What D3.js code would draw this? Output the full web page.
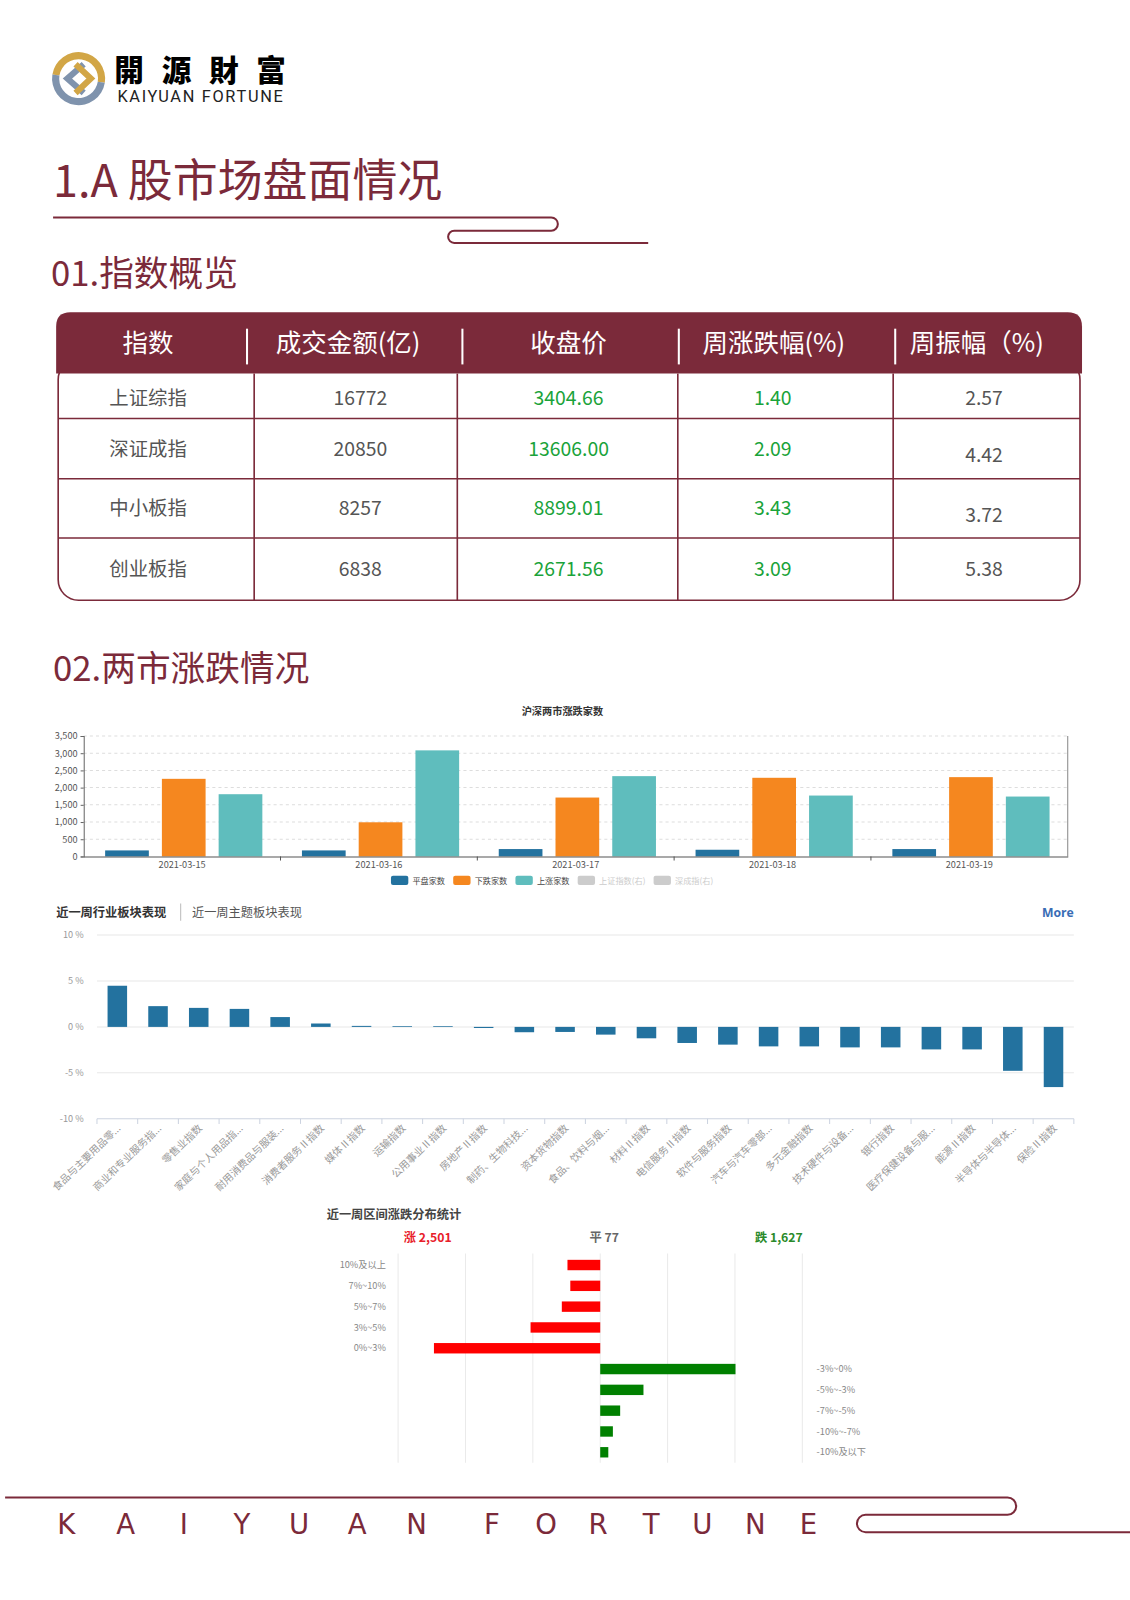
<!DOCTYPE html>
<html>
<head>
<meta charset="utf-8">
<script src="https://cdn.jsdelivr.net/npm/d3@7"></script>
<style>
  body { margin: 0; background: #fff; overflow: hidden; }
  #svg { display: block; }
  svg text { font-family: 'Noto Sans CJK SC', 'Noto Sans', sans-serif; }
</style>
</head>
<body>
<svg id="svg"></svg>
<script>
// page size
const width = 1130;
const height = 1600;
// layout was measured on a 1107px wide copy of the page
const pageScale = 1130 / 1107;
const maroon = "#7b2a3a";

// ---- data ----
// table
const indexNames = ["上证综指", "深证成指", "中小板指", "创业板指"];
const turnover = ["16772", "20850", "8257", "6838"];
const closePrice = ["3404.66", "13606.00", "8899.01", "2671.56"];
const weekChange = ["1.40", "2.09", "3.43", "3.09"];
const weekAmplitude = ["2.57", "4.42", "3.72", "5.38"];
const tableHeaders = ["指数", "成交金额(亿)", "收盘价", "周涨跌幅(%)", "周振幅（%)"];

// chart 1: up / down counts
const dates = ["2021-03-15", "2021-03-16", "2021-03-17", "2021-03-18", "2021-03-19"];
const flatCounts = [175, 175, 214, 194, 214];
const downCounts = [2255, 992, 1711, 2285, 2304];
const upCounts = [1808, 3082, 2333, 1769, 1740];
const countSeries = ["平盘家数", "下跌家数", "上涨家数"];
const legendNames = ["平盘家数", "下跌家数", "上涨家数", "上证指数(右)", "深成指(右)"];
const countTicks = [0, 500, 1000, 1500, 2000, 2500, 3000, 3500];

// chart 2: sector performance (%)
const sectorNames = ["食品与主要用品零...", "商业和专业服务指...", "零售业指数", "家庭与个人用品指...",
  "耐用消费品与服装...", "消费者服务Ⅱ指数", "媒体Ⅱ指数", "运输指数", "公用事业Ⅱ指数", "房地产Ⅱ指数",
  "制药、生物科技...", "资本货物指数", "食品、饮料与烟...", "材料Ⅱ指数", "电信服务Ⅱ指数", "软件与服务指数",
  "汽车与汽车零部...", "多元金融指数", "技术硬件与设备...", "银行指数", "医疗保健设备与服...", "能源Ⅱ指数",
  "半导体与半导体...", "保险Ⅱ指数"];
const sectorChanges = [4.48, 2.26, 2.07, 1.96, 1.07, 0.37, 0.11, 0.08, 0.08, -0.12, -0.58, -0.55,
  -0.84, -1.24, -1.75, -1.93, -2.12, -2.12, -2.23, -2.23, -2.45, -2.45, -4.78, -6.55];
const pctTicks = [-10, -5, 0, 5, 10];

// chart 3: distribution
const upRanges = ["10%及以上", "7%~10%", "5%~7%", "3%~5%", "0%~3%"];
const upRangeCounts = [243, 222, 285, 517, 1234];
const downRanges = ["-3%~0%", "-5%~-3%", "-7%~-5%", "-10%~-7%", "-10%及以下"];
const downRangeCounts = [1004, 321, 148, 94, 60];
const summaryLabels = ["涨 2,501", "平 77", "跌 1,627"];

const footerLetters = ["K", "A", "I", "Y", "U", "A", "N", "F", "O", "R", "T", "U", "N", "E"];

let svg = d3.select("#svg").attr("width", width).attr("height", height)
  .append("g").attr("transform", `scale(${pageScale})`);

// ---- logo ----
function drawLogo() {
  const g = svg.append("g");
  const arc = d3.arc().innerRadius(19).outerRadius(26);
  g.append("path").attr("transform", "translate(77,77)")
    .attr("d", arc({ startAngle: -Math.PI * 0.45, endAngle: Math.PI * 0.55 }))
    .attr("fill", "#d2a646");
  g.append("path").attr("transform", "translate(77,77)")
    .attr("d", arc({ startAngle: Math.PI * 0.55, endAngle: Math.PI * 1.55 }))
    .attr("fill", "#7f93ad");
  g.append("path").attr("d", "M82,63 L66,77 L82,91")
    .attr("fill", "none").attr("stroke", "#7f93ad").attr("stroke-width", 6);
  g.append("path").attr("d", "M74,63 L89,77 L74,91")
    .attr("fill", "none").attr("stroke", "#d2a646").attr("stroke-width", 6);

  g.append("text").attr("x", 112).attr("y", 79)
    .style("font-family", "'Noto Sans CJK TC', sans-serif")
    .style("font-size", "29px").style("font-weight", 900)
    .attr("textLength", 168).attr("lengthAdjust", "spacing")
    .text("開源財富");
  g.append("text").attr("x", 115).attr("y", 100)
    .style("font-family", "Roboto, sans-serif").style("font-size", "16px")
    .attr("textLength", 162).attr("lengthAdjust", "spacing")
    .attr("fill", "#222").text("KAIYUAN FORTUNE");
}

// ---- titles ----
function drawTitles() {
  svg.append("text").attr("x", 52).attr("y", 193)
    .style("font-size", "44px").attr("fill", maroon).text("1.A 股市场盘面情况");
  svg.append("path")
    .attr("d", "M52,213 H540 A6.5,6.5 0 0 1 540,226 H445 A6,6 0 0 0 445,238 H635")
    .attr("fill", "none").attr("stroke", maroon).attr("stroke-width", 2);
  svg.append("text").attr("x", 50).attr("y", 280)
    .style("font-size", "34px").attr("fill", maroon).text("01.指数概览");
  svg.append("text").attr("x", 52).attr("y", 667)
    .style("font-size", "34px").attr("fill", maroon).text("02.两市涨跌情况");
}

// ---- table ----
function drawTable() {
  const g = svg.append("g");
  const x0 = 57, x1 = 1058;
  const rowEdges = [366, 410, 469, 527, 588];
  const rowCenters = [390, 440, 498, 557];
  const colEdges = [249, 448, 664, 875];
  const headerCenters = [145, 341, 557, 758, 957];
  const headerSeps = [242, 453, 665, 877];
  const bodyCenters = [145, 353, 557, 757, 964];

  g.append("rect").attr("x", x0).attr("y", 352).attr("width", x1 - x0).attr("height", 588 - 352)
    .attr("rx", 20).attr("fill", "none").attr("stroke", maroon).attr("stroke-width", 1.6);

  g.append("path")
    .attr("d", `M${x0 - 2},366 V320 Q${x0 - 2},306 ${x0 + 12},306 H${x1 - 12} Q${x1 + 2},306 ${x1 + 2},320 V366 Z`)
    .attr("fill", maroon);

  g.selectAll(".sep").data(headerSeps).enter().append("line")
    .attr("x1", d => d).attr("x2", d => d).attr("y1", 322).attr("y2", 357)
    .attr("stroke", "#fff").attr("stroke-width", 2);

  g.selectAll(".hd").data(tableHeaders).enter().append("text")
    .attr("x", (d, i) => headerCenters[i]).attr("y", 345)
    .attr("text-anchor", "middle").attr("fill", "#fff")
    .style("font-size", "25px").text(d => d);

  rowEdges.slice(1, 4).forEach(y => {
    g.append("line").attr("x1", x0).attr("x2", x1).attr("y1", y).attr("y2", y)
      .attr("stroke", maroon).attr("stroke-width", 1.6);
  });
  colEdges.forEach(x => {
    g.append("line").attr("x1", x).attr("x2", x).attr("y1", 366).attr("y2", 588)
      .attr("stroke", maroon).attr("stroke-width", 1.6);
  });

  const columns = [indexNames, turnover, closePrice, weekChange, weekAmplitude];
  const colColors = ["#555", "#555", "#1aa33a", "#1aa33a", "#555"];
  const rowShift = [[0, 0, 0, 0], [0, 0, 0, 0], [0, 0, 0, 0], [0, 0, 0, 0], [0, 6, 6, 0]];
  columns.forEach((col, c) => {
    g.selectAll(".c" + c).data(col).enter().append("text")
      .attr("x", bodyCenters[c]).attr("y", (d, r) => rowCenters[r] + 7 + rowShift[c][r])
      .attr("text-anchor", "middle").attr("fill", colColors[c])
      .style("font-size", "19px").text(d => d);
  });
}

// ---- chart 1: 沪深两市涨跌家数 ----
function drawCountChart() {
  const g = svg.append("g");
  const left = 82, right = 1046, top = 721, bottom = 839;
  const colors = ["#23729f", "#f5871f", "#5fbdbd"];
  const values = [flatCounts, downCounts, upCounts];

  g.append("text").attr("x", 551).attr("y", 700).attr("text-anchor", "middle")
    .style("font-size", "10px").style("font-weight", 700).attr("fill", "#333")
    .text("沪深两市涨跌家数");

  const y = d3.scaleLinear().domain([0, 3500]).range([bottom, top]);
  const x = d3.scaleBand().domain(dates).range([left, right]);
  const xi = d3.scaleBand().domain(countSeries).range([21, 175]).paddingInner(0.23);

  g.selectAll(".grid").data(countTicks.slice(1)).enter().append("line")
    .attr("x1", left).attr("x2", right).attr("y1", d => y(d)).attr("y2", d => y(d))
    .attr("stroke", "#ddd").attr("stroke-dasharray", "3,3");

  const yAxis = g.append("g").attr("transform", `translate(${left},0)`)
    .call(d3.axisLeft(y).tickValues(countTicks).tickFormat(d3.format(",")).tickSize(3));
  yAxis.selectAll("text").style("font-size", "9px").attr("fill", "#555");
  yAxis.selectAll("line").attr("stroke", "#666");
  yAxis.select(".domain").attr("stroke", "#666");

  g.append("line").attr("x1", right).attr("x2", right).attr("y1", top).attr("y2", bottom)
    .attr("stroke", "#888");

  countSeries.forEach((s, si) => {
    g.selectAll(".bar" + si).data(dates).enter().append("rect")
      .attr("x", d => x(d) + xi(s)).attr("width", xi.bandwidth())
      .attr("y", (d, i) => y(values[si][i]))
      .attr("height", (d, i) => bottom - y(values[si][i]))
      .attr("fill", colors[si]);
  });

  const xAxis = g.append("g").attr("transform", `translate(0,${bottom})`)
    .call(d3.axisBottom(x).tickSize(0).tickPadding(5));
  xAxis.selectAll("text").style("font-size", "9px").attr("fill", "#555");
  xAxis.select(".domain").attr("stroke", "#555");
  g.selectAll(".xt").data(dates.slice(1)).enter().append("line")
    .attr("x1", d => x(d)).attr("x2", d => x(d)).attr("y1", bottom).attr("y2", bottom + 4)
    .attr("stroke", "#555");

  // legend
  const legendColors = colors.concat(["#ccc", "#ccc"]);
  let lx = 383;
  legendNames.forEach((name, i) => {
    g.append("rect").attr("x", lx).attr("y", 858).attr("width", 17).attr("height", 9)
      .attr("rx", 2).attr("fill", legendColors[i]);
    const t = g.append("text").attr("x", lx + 21).attr("y", 866)
      .style("font-size", "8px").attr("fill", i < 3 ? "#444" : "#ccc").text(name);
    lx += 21 + t.node().getComputedTextLength() + 8;
  });
}

// ---- chart 2: 近一周行业板块表现 ----
function drawSectorChart() {
  const g = svg.append("g");
  const left = 95, right = 1052, top = 916, bottom = 1096;

  g.append("text").attr("x", 55).attr("y", 898).style("font-size", "12px")
    .style("font-weight", 700).attr("fill", "#333").text("近一周行业板块表现");
  g.append("line").attr("x1", 177).attr("x2", 177).attr("y1", 885).attr("y2", 902)
    .attr("stroke", "#bbb");
  g.append("text").attr("x", 188).attr("y", 898).style("font-size", "12px")
    .attr("fill", "#555").text("近一周主题板块表现");
  g.append("text").attr("x", 1052).attr("y", 898).attr("text-anchor", "end")
    .style("font-family", "'Open Sans', sans-serif")
    .style("font-size", "12px").style("font-weight", 700).attr("fill", "#3a6db5").text("More");

  const y = d3.scaleLinear().domain([-10, 10]).range([bottom, top]);
  const x = d3.scaleBand().domain(sectorNames).range([left, right])
    .paddingInner(0.52).paddingOuter(0.26);

  g.selectAll(".grid").data(pctTicks.slice(1)).enter().append("line")
    .attr("x1", left).attr("x2", right).attr("y1", d => y(d)).attr("y2", d => y(d))
    .attr("stroke", "#e8e8e8");
  g.append("line").attr("x1", left).attr("x2", right).attr("y1", bottom).attr("y2", bottom)
    .attr("stroke", "#ccd3e0");

  g.selectAll(".yl").data(pctTicks).enter().append("text")
    .attr("x", 82).attr("y", d => y(d) + 3).attr("text-anchor", "end")
    .style("font-size", "9px").attr("fill", "#999").text(d => d + " %");

  g.selectAll(".bar").data(sectorNames).enter().append("rect")
    .attr("x", d => x(d)).attr("width", x.bandwidth())
    .attr("y", (d, i) => y(Math.max(0, sectorChanges[i])))
    .attr("height", (d, i) => Math.abs(y(sectorChanges[i]) - y(0)))
    .attr("fill", "#23729f");

  const step = x.step();
  g.selectAll(".xt").data(d3.range(sectorNames.length + 1)).enter().append("line")
    .attr("x1", i => left + i * step).attr("x2", i => left + i * step)
    .attr("y1", bottom).attr("y2", bottom + 5).attr("stroke", "#ccd3e0");

  g.selectAll(".xl").data(sectorNames).enter().append("text")
    .attr("transform", d => `translate(${x(d) + x.bandwidth() / 2 + 4},${bottom + 10}) rotate(-44)`)
    .attr("text-anchor", "end").style("font-size", "10px").attr("fill", "#999")
    .text(d => d);
}

// ---- chart 3: 近一周区间涨跌分布统计 ----
function drawDistributionChart() {
  const g = svg.append("g");
  const top = 1228, bottom = 1433;

  g.append("text").attr("x", 320).attr("y", 1194).style("font-size", "12px")
    .style("font-weight", 700).attr("fill", "#444").text("近一周区间涨跌分布统计");

  const summaryX = [419, 592, 763];
  const summaryColors = ["#e8202a", "#666", "#2a8a2a"];
  g.selectAll(".sum").data(summaryLabels).enter().append("text")
    .attr("x", (d, i) => summaryX[i]).attr("y", 1217).attr("text-anchor", "middle")
    .style("font-size", "12px").style("font-weight", 700)
    .attr("fill", (d, i) => summaryColors[i]).text(d => d);

  const x = d3.scaleLinear().domain([-1500, 1500]).range([390, 786]);
  const y = d3.scaleBand().domain(upRanges.concat(downRanges)).range([1224, 1438]).padding(0.5);

  g.selectAll(".grid").data(x.ticks(6)).enter().append("line")
    .attr("x1", d => x(d)).attr("x2", d => x(d)).attr("y1", top).attr("y2", bottom)
    .attr("stroke", "#eaeaea");

  g.selectAll(".up").data(upRanges).enter().append("rect")
    .attr("x", (d, i) => x(-upRangeCounts[i])).attr("y", d => y(d))
    .attr("width", (d, i) => x(0) - x(-upRangeCounts[i])).attr("height", y.bandwidth())
    .attr("fill", "#ff0000");
  g.selectAll(".down").data(downRanges).enter().append("rect")
    .attr("x", x(0)).attr("y", d => y(d))
    .attr("width", (d, i) => x(downRangeCounts[i]) - x(0)).attr("height", y.bandwidth())
    .attr("fill", "#008000");

  g.selectAll(".ul").data(upRanges).enter().append("text")
    .attr("x", 378).attr("y", d => y(d) + y.bandwidth() / 2 + 3).attr("text-anchor", "end")
    .style("font-size", "9px").attr("fill", "#888").text(d => d);
  g.selectAll(".dl").data(downRanges).enter().append("text")
    .attr("x", 800).attr("y", d => y(d) + y.bandwidth() / 2 + 3)
    .style("font-size", "9px").attr("fill", "#888").text(d => d);
}

// ---- footer ----
function drawFooter() {
  svg.append("path")
    .attr("d", "M5,1467 H987 A8.5,8.5 0 0 1 987,1484 H848 A8.5,8.5 0 0 0 848,1501 H1110")
    .attr("fill", "none").attr("stroke", maroon).attr("stroke-width", 2);
  const letterX = [65, 123, 180, 237, 293, 350, 408, 482, 535, 586, 638, 688, 740, 792];
  svg.selectAll(".fl").data(footerLetters).enter().append("text")
    .attr("x", (d, i) => letterX[i]).attr("y", 1503).attr("text-anchor", "middle")
    .style("font-family", "'DejaVu Sans', sans-serif").style("font-size", "27px")
    .attr("fill", maroon).text(d => d);
}

drawLogo();
drawTitles();
drawTable();
drawCountChart();
drawSectorChart();
drawDistributionChart();
drawFooter();
</script>
</body>
</html>
